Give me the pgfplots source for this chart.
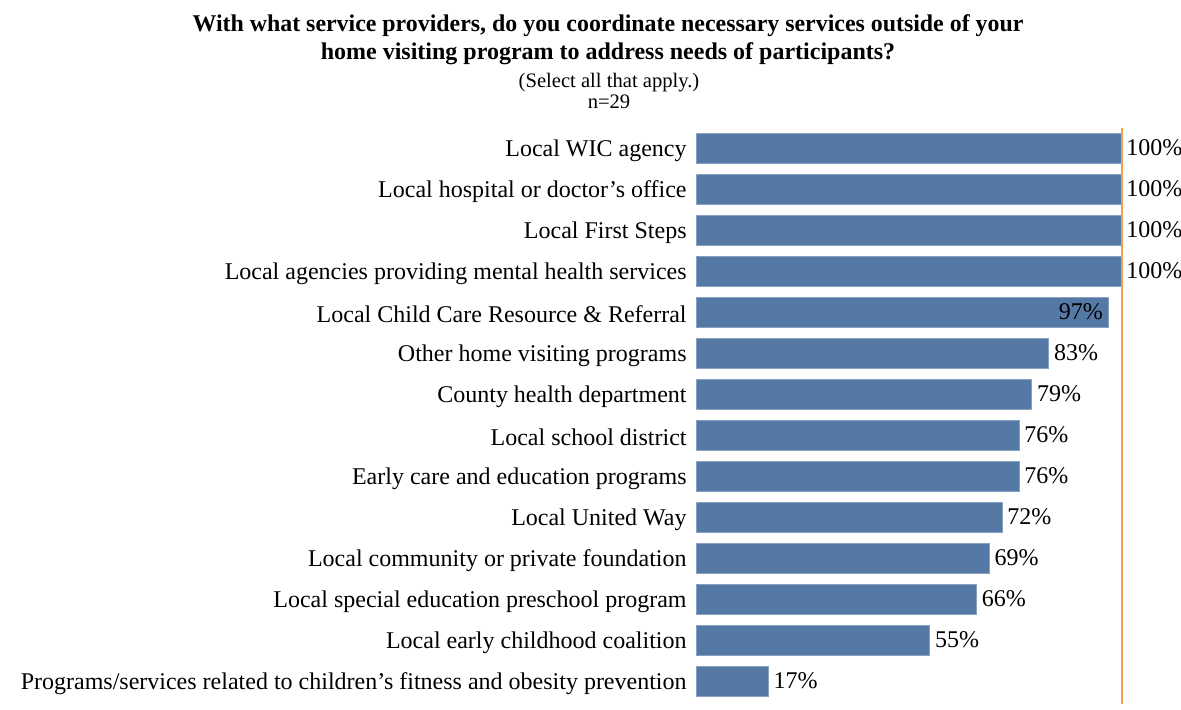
\documentclass[border=0pt]{standalone}
\usepackage{pgfplots}
\pgfplotsset{compat=1.18}
\usepackage{fontspec}
\setmainfont{Liberation Serif}
\definecolor{barblue}{HTML}{5579A5}
\definecolor{lineorange}{HTML}{F0A050}
\begin{document}
\begin{tikzpicture}
\useasboundingbox (0,0) rectangle (590.5pt,-354.5pt);
\node[align=center,font=\fontsize{12}{14}\selectfont\bfseries] at (304pt,-20pt)
  {\scalebox{0.995}[1]{With what service providers, do you coordinate necessary services outside of your}\\
   home visiting program to address needs of participants?};
\node[align=center,font=\fontsize{10.3}{10.5}\selectfont] at (304.5pt,-45.5pt)
  {(Select all that apply.)\\n=29};
\begin{axis}[
  at={(348pt,-63.75pt)}, anchor=north west,
  scale only axis, width=212.5pt, height=287pt,
  xbar, bar width=15pt,
  xmin=0, xmax=100, ymin=-0.5, ymax=13.5,
  y dir=reverse,
  axis line style={draw=none},
  xtick=\empty,
  ytick={0,...,13},
  yticklabels={{Local WIC agency},{Local hospital or doctor’s office},{Local First Steps},{Local agencies providing mental health services},{Local Child Care Resource \& Referral},{Other home visiting programs},{County health department},{Local school district},{Early care and education programs},{Local United Way},{Local community or private foundation},{Local special education preschool program},{Local early childhood coalition},{Programs/services related to children’s fitness and obesity prevention}},
  yticklabel style={font=\fontsize{12}{12}\selectfont, anchor=east, inner xsep=0pt, xshift=-4.5pt, yshift=-1.2pt},
  major tick length=0pt,
  /pgf/number format/assume math mode=true,
  nodes near coords={\pgfmathprintnumber{\pgfplotspointmeta}\%},
  every node near coord/.append style={font=\fontsize{12}{12}\selectfont, inner xsep=2.5pt, black},
  clip=false,
]
\addplot[fill=barblue, draw=barblue!70!white, line width=0.4pt, bar shift=0pt] coordinates {
(100,0) (100,1) (100,2) (100,3) (83,5) (79,6) (76,7) (76,8) (72,9) (69,10) (66,11) (55,12) (17,13)};
\addplot[fill=barblue, draw=barblue!70!white, line width=0.4pt, bar shift=0pt,
  every node near coord/.append style={anchor=east, xshift=0pt}] coordinates {(97,4)};
\draw[lineorange, line width=1pt] (axis cs:100.3,-0.5) -- (axis cs:100.3,13.55);
\end{axis}
\end{tikzpicture}
\end{document}
